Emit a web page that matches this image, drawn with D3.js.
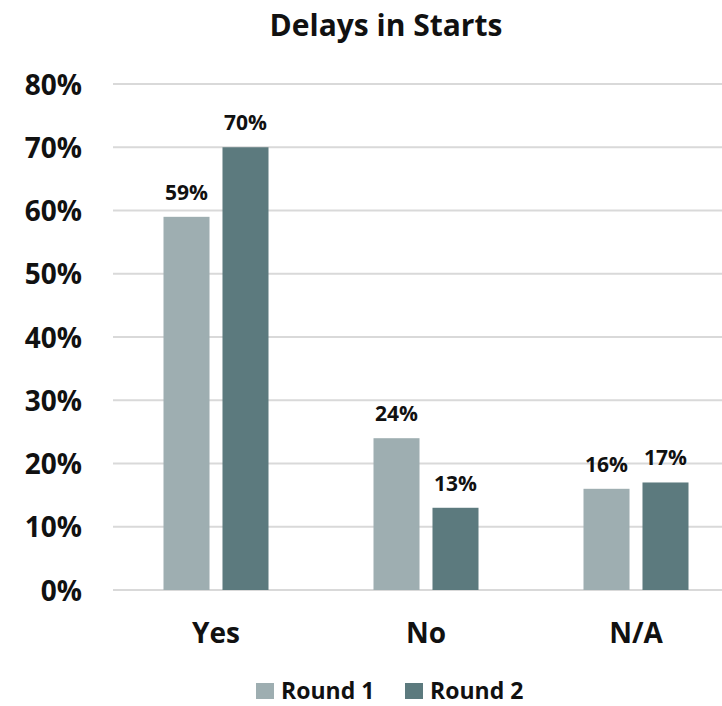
<!DOCTYPE html>
<html>
<head>
<meta charset="utf-8">
<script src="https://cdn.jsdelivr.net/npm/d3@7"></script>
<style>
  body { margin: 0; background: #fff; }
  text { font-family: "Open Sans", sans-serif; font-weight: bold; fill: #111; }
</style>
</head>
<body>
<svg width="722" height="706"></svg>
<script>
var categories = ["Yes", "No", "N/A"];
var series = ["Round 1", "Round 2"];
var round1 = [59, 24, 16];
var round2 = [70, 13, 17];
var yTicks = [0, 10, 20, 30, 40, 50, 60, 70, 80];
var colors = ["#9eaeb1", "#5c7a7e"];

var svg = d3.select("svg"),
    width = +svg.attr("width"),
    height = +svg.attr("height");

var values = [round1, round2];

var x0 = d3.scaleBand()
    .domain(categories)
    .range([111, 741])
    .paddingInner(0.5)
    .paddingOuter(0.25);

var x1 = d3.scaleBand()
    .domain(series)
    .range([0, x0.bandwidth()])
    .paddingInner(0.22);

var y = d3.scaleLinear()
    .domain([0, 80])
    .range([590, 84]);

// gridlines
svg.append("g")
   .selectAll("line")
   .data(yTicks)
   .enter().append("line")
   .attr("x1", 113)
   .attr("x2", width)
   .attr("y1", function(d) { return y(d); })
   .attr("y2", function(d) { return y(d); })
   .attr("stroke", "#d9d9d9")
   .attr("stroke-width", 2);

// y axis labels
var yAxis = svg.append("g")
   .attr("transform", "translate(82,0)")
   .call(d3.axisLeft(y).tickValues(yTicks).tickSize(0).tickPadding(0)
           .tickFormat(function(d) { return d + "%"; }));
yAxis.select(".domain").remove();
yAxis.selectAll("text")
     .style("font-size", "28px")
     .attr("dy", "0.36em")
     .attr("fill", "#111");

// x axis labels
var xAxis = svg.append("g")
   .attr("transform", "translate(0,590)")
   .call(d3.axisBottom(x0).tickSize(0).tickPadding(0));
xAxis.select(".domain").remove();
xAxis.selectAll("text")
     .style("font-size", "28px")
     .attr("y", 53)
     .attr("dy", 0)
     .attr("fill", "#111");

// bars
var groups = svg.append("g")
   .selectAll("g")
   .data(categories)
   .enter().append("g")
   .attr("transform", function(d) { return "translate(" + x0(d) + ",0)"; });

groups.selectAll("rect")
   .data(function(d, i) {
       return series.map(function(s, j) { return {s: s, v: values[j][i], j: j}; });
   })
   .enter().append("rect")
   .attr("x", function(d) { return x1(d.s); })
   .attr("y", function(d) { return y(d.v); })
   .attr("width", x1.bandwidth())
   .attr("height", function(d) { return y(0) - y(d.v); })
   .attr("fill", function(d) { return colors[d.j]; });

groups.selectAll(".lbl")
   .data(function(d, i) {
       return series.map(function(s, j) { return {s: s, v: values[j][i], j: j}; });
   })
   .enter().append("text")
   .attr("class", "lbl")
   .attr("x", function(d) { return x1(d.s) + x1.bandwidth() / 2; })
   .attr("y", function(d) { return y(d.v) - 17; })
   .attr("text-anchor", "middle")
   .style("font-size", "21px")
   .text(function(d) { return d.v + "%"; });

// title
svg.append("text")
   .attr("x", 386)
   .attr("y", 36)
   .attr("text-anchor", "middle")
   .style("font-size", "30px")
   .text("Delays in Starts");

// legend
var legend = svg.append("g")
   .selectAll("g")
   .data(series)
   .enter().append("g")
   .attr("transform", function(d, i) { return "translate(" + (256 + i * 149) + ",683)"; });

legend.append("rect")
   .attr("width", 18)
   .attr("height", 16)
   .attr("fill", function(d, i) { return colors[i]; });

legend.append("text")
   .attr("x", 25)
   .attr("y", 16)
   .style("font-size", "23px")
   .text(function(d) { return d; });
</script>
</body>
</html>
